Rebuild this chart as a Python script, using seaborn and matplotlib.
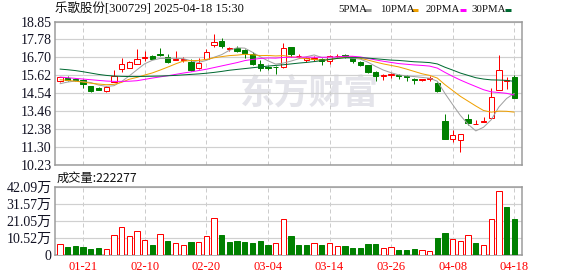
import numpy as np
import pandas as pd
import matplotlib
matplotlib.use('Agg')
import matplotlib.pyplot as plt
from matplotlib.lines import Line2D
import seaborn as sns

# ---------------- data ----------------
dates = ['01-16', '01-17', '01-20', '01-21', '01-22', '01-23', '01-24', '01-27', '02-05', '02-06',
         '02-07', '02-10', '02-11', '02-12', '02-13', '02-14', '02-17', '02-18', '02-19', '02-20',
         '02-21', '02-24', '02-25', '02-26', '02-27', '02-28', '03-03', '03-04', '03-05', '03-06',
         '03-07', '03-10', '03-11', '03-12', '03-13', '03-14', '03-17', '03-18', '03-19', '03-20',
         '03-21', '03-24', '03-25', '03-26', '03-27', '03-28', '03-31', '04-01', '04-02', '04-03',
         '04-07', '04-08', '04-09', '04-10', '04-11', '04-14', '04-15', '04-16', '04-17', '04-18']

opens = [15.26, 15.46, 15.40, 15.32, 14.96, 14.88, 14.70, 15.20, 15.98, 16.08,
         16.32, 16.66, 16.76, 16.88, 16.74, 16.56, 16.56, 16.44, 16.04, 16.62,
         17.44, 17.70, 17.20, 17.24, 17.14, 16.88, 16.28, 16.10, 16.12, 16.10,
         17.32, 16.76, 16.56, 16.58, 16.62, 16.46, 16.76, 16.84, 16.64, 16.42,
         16.22, 15.82, 15.58, 15.62, 15.62, 15.56, 15.40, 15.34, 15.40, 15.14,
         12.86, 11.80, 11.74, 13.00, 12.68, 12.84, 13.06, 14.75, 15.30, 15.53]
highs = [15.55, 15.56, 15.48, 15.42, 14.98, 14.92, 15.00, 15.96, 16.66, 16.48,
         17.20, 17.10, 16.84, 17.28, 16.88, 17.10, 16.70, 16.60, 16.68, 17.20,
         18.14, 17.88, 17.32, 17.36, 17.18, 17.00, 16.52, 16.18, 16.16, 17.54,
         17.32, 16.90, 16.74, 16.76, 16.66, 16.82, 16.88, 16.90, 16.68, 16.46,
         16.24, 15.88, 15.72, 15.78, 15.68, 15.62, 15.46, 15.42, 15.56, 15.24,
         13.32, 12.32, 12.12, 13.30, 12.96, 13.10, 14.89, 16.84, 15.55, 15.65]
lows = [15.22, 15.28, 15.28, 14.88, 14.60, 14.74, 14.62, 15.20, 15.82, 16.04,
        16.30, 16.48, 16.58, 16.80, 16.36, 16.52, 16.40, 15.88, 16.00, 16.60,
        17.34, 17.24, 17.08, 17.04, 16.68, 16.24, 15.90, 15.96, 15.68, 16.04,
        16.74, 16.64, 16.44, 16.50, 16.24, 16.30, 16.66, 16.68, 16.38, 16.18,
        15.78, 15.30, 15.36, 15.46, 15.42, 15.28, 15.08, 15.30, 15.30, 14.60,
        11.78, 11.60, 11.03, 12.66, 12.68, 12.84, 13.00, 14.75, 14.81, 14.25]
closes = [15.50, 15.36, 15.32, 15.08, 14.68, 14.76, 14.94, 15.56, 16.30, 16.40,
          16.62, 16.72, 16.62, 16.84, 16.44, 16.60, 16.62, 15.94, 16.38, 17.02,
          17.60, 17.40, 17.26, 17.10, 16.96, 16.32, 16.08, 16.06, 16.10, 17.24,
          16.92, 16.80, 16.64, 16.66, 16.46, 16.78, 16.80, 16.74, 16.48, 16.22,
          15.82, 15.56, 15.62, 15.68, 15.58, 15.50, 15.36, 15.38, 15.44, 14.68,
          11.78, 12.04, 12.12, 12.78, 12.70, 12.86, 14.31, 15.94, 15.34, 14.25]

# volume in units of 万 (10k shares)
volumes = [6.8, 5.0, 5.6, 5.0, 3.7, 4.3, 3.5, 12.2, 17.1, 11.6,
           14.7, 9.1, 6.2, 12.8, 8.7, 7.2, 6.0, 8.0, 8.0, 11.6,
           22.7, 12.4, 8.0, 8.7, 8.0, 7.4, 8.7, 6.2, 7.2, 22.1,
           11.8, 6.2, 6.2, 7.2, 6.2, 7.2, 5.4, 5.6, 4.3, 4.3,
           6.8, 6.8, 4.1, 4.7, 3.1, 3.1, 3.7, 2.9, 2.3, 10.5,
           13.6, 9.7, 8.5, 12.2, 7.4, 6.0, 22.1, 39.4, 29.7, 22.2277]
# 1 = up day (red hollow volume bar), 0 = down day (green)
vol_up = [1, 0, 0, 0, 0, 0, 1, 1, 1, 1,
          1, 1, 0, 1, 0, 1, 1, 0, 1, 1,
          1, 0, 0, 0, 0, 0, 0, 0, 1, 1,
          0, 0, 0, 1, 0, 1, 1, 0, 0, 0,
          0, 0, 1, 1, 0, 0, 0, 1, 1, 0,
          0, 1, 1, 1, 0, 1, 1, 1, 0, 0]

ma5 = [15.12, 15.22, 15.28, 15.24, 15.19, 15.04, 14.96, 15.00, 15.25, 15.59,
       15.96, 16.32, 16.53, 16.64, 16.65, 16.65, 16.63, 16.50, 16.40, 16.52,
       16.71, 16.87, 17.13, 17.28, 17.26, 17.01, 16.74, 16.50, 16.30, 16.36,
       16.48, 16.62, 16.74, 16.85, 16.70, 16.67, 16.67, 16.69, 16.65, 16.60,
       16.41, 16.16, 15.94, 15.78, 15.65, 15.59, 15.55, 15.50, 15.45, 15.27,
       14.53, 13.86, 13.21, 12.68, 12.28, 12.50, 12.95, 13.72, 14.23, 14.54]
ma10 = [15.36, 15.32, 15.27, 15.22, 15.15, 15.10, 15.06, 15.08, 15.20, 15.39,
        15.50, 15.64, 15.77, 15.94, 16.12, 16.31, 16.48, 16.51, 16.52, 16.58,
        16.68, 16.75, 16.81, 16.84, 16.89, 16.86, 16.81, 16.82, 16.79, 16.81,
        16.74, 16.68, 16.62, 16.58, 16.53, 16.57, 16.65, 16.71, 16.75, 16.65,
        16.54, 16.42, 16.31, 16.22, 16.13, 16.00, 15.86, 15.72, 15.62, 15.46,
        15.06, 14.71, 14.36, 14.07, 13.78, 13.51, 13.41, 13.47, 13.46, 13.41]
ma20 = [15.52, 15.48, 15.44, 15.40, 15.36, 15.32, 15.28, 15.26, 15.26, 15.27,
        15.30, 15.38, 15.46, 15.53, 15.60, 15.68, 15.76, 15.83, 15.91, 15.99,
        16.09, 16.19, 16.29, 16.39, 16.51, 16.58, 16.64, 16.67, 16.66, 16.70,
        16.71, 16.72, 16.72, 16.71, 16.71, 16.72, 16.73, 16.77, 16.77, 16.73,
        16.64, 16.55, 16.47, 16.40, 16.33, 16.29, 16.25, 16.22, 16.18, 16.06,
        15.80, 15.56, 15.34, 15.14, 14.95, 14.76, 14.63, 14.59, 14.54, 14.44]
ma30 = [16.00, 15.96, 15.91, 15.84, 15.76, 15.68, 15.62, 15.58, 15.56, 15.55,
        15.55, 15.56, 15.57, 15.58, 15.60, 15.62, 15.65, 15.68, 15.71, 15.75,
        15.80, 15.86, 15.93, 15.98, 16.03, 16.08, 16.13, 16.18, 16.22, 16.26,
        16.31, 16.36, 16.40, 16.45, 16.51, 16.58, 16.64, 16.68, 16.69, 16.68,
        16.66, 16.62, 16.58, 16.54, 16.52, 16.48, 16.44, 16.42, 16.39, 16.31,
        16.11, 15.94, 15.76, 15.62, 15.48, 15.40, 15.35, 15.34, 15.32, 15.26]

tick_dates = ['01-21', '02-10', '02-20', '03-04', '03-14', '03-26', '04-08', '04-18']
price_ticks = [10.23, 11.30, 12.38, 13.46, 14.54, 15.62, 16.70, 17.78, 18.85]
vol_ticks = [0, 10.52, 21.05, 31.57, 42.09]
vol_tick_labels = ['0', '10.52万', '21.05万', '31.57万', '42.09万']
title_text = '乐歌股份[300729] 2025-04-18 15:30'
vol_title = '成交量:222277'
ma_names = ['5PMA', '10PMA', '20PMA', '30PMA']
watermark = '东方财富'

# ---------------- style ----------------
sns.set_theme(style='white')
plt.rcParams['font.family'] = ['Liberation Serif', 'Noto Sans CJK SC', 'DejaVu Sans']
plt.rcParams['axes.unicode_minus'] = False

W, H = 578, 276
fig = plt.figure(figsize=(W / 100, H / 100), dpi=100)
fig.patch.set_facecolor('white')

def fx(px):
    return px / W

def fy(py):
    return 1 - py / H

axp = fig.add_axes([fx(55), fy(165), fx(522) - fx(55), fy(21.7) - fy(165)])
axv = fig.add_axes([fx(55), fy(255), fx(522) - fx(55), fy(186.7) - fy(255)])

RED = '#ff0000'
GREEN = '#008000'
MA_COLORS = ['#a0a0a0', '#f0a000', '#ff00ff', '#006a32']
GRID = '#d0d0d0'
SPINE = '#9a9a9a'
PX = 0.72  # points per pixel

n = len(dates)
x = np.arange(n)
df = pd.DataFrame(dict(x=x, open=opens, high=highs, low=lows, close=closes,
                       vol=volumes, vup=vol_up, ma5=ma5, ma10=ma10, ma20=ma20, ma30=ma30))
tick_idx = [dates.index(d) for d in tick_dates]

for ax in (axp, axv):
    ax.set_facecolor('white')
    ax.set_xlim(-0.65, n)
    for s in ax.spines.values():
        s.set_color(SPINE)
        s.set_linewidth(1.5 * PX)
    ax.set_xticks(tick_idx)
    ax.xaxis.grid(True, color='#cccccc', lw=1 * PX, ls=(0, (4, 3)))
    ax.yaxis.grid(True, color=GRID, lw=1.2 * PX, ls='-')
    ax.set_axisbelow(True)
    ax.tick_params(axis='both', length=0, labelsize=10, colors='#111122')
    ax.set_xlabel('')
    ax.set_ylabel('')

# watermark
axp.text(0.545, 0.50, watermark, transform=axp.transAxes, ha='center', va='center',
         fontsize=25, fontweight='bold', color='#e4e4ea', family='Noto Sans CJK SC', zorder=0.5)

# price panel
axp.set_ylim(10.23, 18.85)
axp.set_yticks(price_ticks)
axp.set_yticklabels([f'{v:.2f}' for v in price_ticks])
axp.tick_params(axis='y', pad=2.5)
axp.set_xticklabels([])

o = df['open'].values
c = df['close'].values
up = c >= o
colors = np.where(up, RED, GREEN)
axp.vlines(x, df['low'], df['high'], colors=colors, lw=1 * PX, zorder=2)
bottoms = np.minimum(o, c)
heights = np.maximum(np.abs(c - o), 0.001)
axp.bar(x[up], heights[up], bottom=bottoms[up], width=0.68, facecolor='white',
        edgecolor=RED, lw=1 * PX, zorder=3)
axp.bar(x[~up], heights[~up], bottom=bottoms[~up], width=0.68, facecolor=GREEN,
        edgecolor=GREEN, lw=1 * PX, zorder=3)

for col, colr in zip(['ma5', 'ma10', 'ma20', 'ma30'], MA_COLORS):
    sns.lineplot(data=df, x='x', y=col, color=colr, lw=1 * PX, ax=axp, zorder=4)
axp.set_xlabel('')
axp.set_ylabel('')

# volume panel
axv.set_ylim(0, 42.09)
axv.set_yticks(vol_ticks)
axv.set_yticklabels(vol_tick_labels)
axv.tick_params(axis='y', pad=2.5)
vup = df['vup'].values.astype(bool)
vol = df['vol'].values
axv.bar(x[vup], vol[vup], width=0.68, facecolor='white', edgecolor=RED, lw=1 * PX, zorder=3)
axv.bar(x[~vup], vol[~vup], width=0.68, facecolor=GREEN, edgecolor=GREEN, lw=1 * PX, zorder=3)
axv.set_xticklabels(tick_dates)
axv.tick_params(axis='x', colors=RED, labelsize=9, pad=4)
axv.tick_params(axis='y', colors='#111122')

# titles
fig.text(fx(55), fy(9), title_text, ha='left', va='center', fontsize=9, color='#111111')
fig.text(fx(57), fy(178), vol_title, ha='left', va='center', fontsize=8.8, color='#111111',
         family=['Noto Sans CJK SC', 'DejaVu Sans'])

# legend
leg_text_x = [338, 380.5, 425.5, 471]
leg_sw_x = [364.5, 412, 459.5, 505]
for name, tx, sx, colr in zip(ma_names, leg_text_x, leg_sw_x, MA_COLORS):
    fig.text(fx(tx), fy(9), name, ha='left', va='center', fontsize=7.8, color='#111111')
    fig.add_artist(Line2D([fx(sx), fx(sx + 6)], [fy(9.5), fy(9.5)], color=colr,
                          lw=3 * PX, solid_capstyle='butt'))

fig.savefig('out.png', dpi=100, facecolor='white')
